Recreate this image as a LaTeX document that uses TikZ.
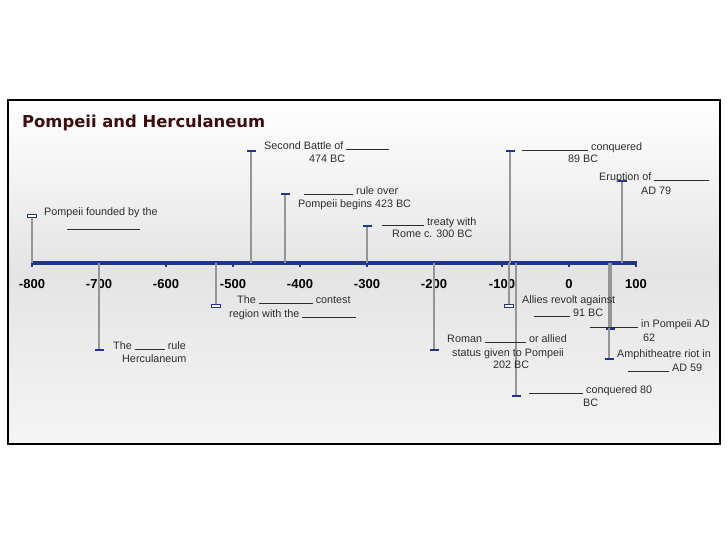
\documentclass[tikz,border=0pt]{standalone}
\usepackage{fontspec}
\setmainfont{Liberation Sans}
\newfontfamily\titlefont{DejaVu Sans}
\definecolor{navy}{RGB}{32,54,138}
\definecolor{linegray}{RGB}{150,150,150}
\definecolor{txtgray}{RGB}{45,45,45}
\definecolor{bgmid}{RGB}{228,228,228}
\definecolor{titlecol}{RGB}{62,14,14}
\newcommand{\blk}[1]{\rule[-0.5pt]{#1pt}{0.7pt}}
\tikzset{
  evt/.style={draw=linegray, line width=1.4pt},
  evtthick/.style={draw=linegray, line width=3.2pt},
  capd/.style={rectangle, fill=navy, minimum width=9pt, minimum height=2pt, inner sep=0pt},
  caph/.style={rectangle, draw=navy, fill=white, line width=0.8pt, minimum width=9pt, minimum height=3.5pt, inner sep=0pt},
  lbl/.style={anchor=base west, inner sep=0pt, text=txtgray, font=\fontsize{10.8}{13}\selectfont},
  yr/.style={anchor=base, inner sep=0pt, text=black, font=\bfseries\fontsize{13}{15}\selectfont},
}
\begin{document}
\begin{tikzpicture}[x=1pt,y=-1pt]
\useasboundingbox (0,0) rectangle (728,546);
% frame with gradient
\path[top color=white, bottom color=white!96!black, middle color=bgmid] (8,100) rectangle (720,444);
\draw[line width=1.5pt, black] (8,100) rectangle (720,444);
% title
\node[anchor=base west, inner sep=0pt, text=titlecol, font=\titlefont\bfseries\fontsize{16.4}{18}\selectfont] (title) at (22,127) {Pompeii and Herculaneum};
% axis
\coordinate (ax0) at (32,263);
\coordinate (ax1) at (637,263);
\foreach \i/\x in {1/32,2/99,3/166,4/233,5/300,6/367,7/434,8/502,9/569,10/636} {
  \draw[navy, line width=1.2pt] (\x,263) -- (\x,267);
}
\draw[navy, line width=4.5pt] (ax0) -- (ax1);
% year labels
\foreach \x/\t in {32/-800,99/-700,166/-600,233/-500,300/-400,367/-300,434/-200,502/-100,569/0,636/100} {
  \node[yr] (y\t) at (\x,288) {\t};
}
% event anchor points on axis
\coordinate (a1) at (32,263);
\coordinate (a2) at (99,263);
\coordinate (a3) at (216,263);
\coordinate (a4) at (251,263);
\coordinate (a5) at (285,263);
\coordinate (a6) at (367,263);
\coordinate (a7) at (434,263);
\coordinate (a8) at (510,263);
\coordinate (a9) at (509,263);
\coordinate (a10) at (516,263);
\coordinate (a11) at (622,263);
\coordinate (a12) at (610,263);
\coordinate (a13) at (609,263);
% caps
\node[caph] (c1) at (32,216) {};
\node[capd] (c2) at (99,350) {};
\node[caph] (c3) at (216,306) {};
\node[capd] (c4) at (251,151) {};
\node[capd] (c5) at (285,194) {};
\node[capd] (c6) at (367,226) {};
\node[capd] (c7) at (434,350) {};
\node[capd] (c8) at (510,151) {};
\node[caph] (c9) at (509,306) {};
\node[capd] (c10) at (516,396) {};
\node[capd] (c11) at (622,181) {};
\node[capd] (c12) at (610,329) {};
\node[capd] (c13) at (609,359) {};
% event lines
\draw[evt] (a1) -- (c1);
\draw[evt] (a2) -- (c2);
\draw[evt] (a3) -- (c3);
\draw[evt] (a4) -- (c4);
\draw[evt] (a5) -- (c5);
\draw[evt] (a6) -- (c6);
\draw[evt] (a7) -- (c7);
\draw[evt] (a8) -- (c8);
\draw[evt] (a9) -- (c9);
\draw[evt] (a10) -- (c10);
\draw[evt] (a11) -- (c11);
\draw[evt] (a13) -- (c13);
\draw[evtthick] (a12) -- (c12);
% labels
\node[lbl] (t1a) at (44,215) {Pompeii founded by the};
\node[lbl] (t1b) at (67,229) {\blk{73}};
\node[lbl] (t2a) at (113,349) {The \blk{30} rule};
\node[lbl] (t2b) at (122,362) {Herculaneum};
\node[lbl] (t3a) at (237,303) {The \blk{54} contest};
\node[lbl] (t3b) at (229,317) {region with the \blk{54}};
\node[lbl] (t4a) at (264,149) {Second Battle of \blk{43}};
\node[lbl] (t4b) at (309,162) {474 BC};
\node[lbl] (t5a) at (304,194) {\blk{49} rule over};
\node[lbl] (t5b) at (298,207) {Pompeii begins 423 BC};
\node[lbl] (t6a) at (382,225) {\blk{42} treaty with};
\node[lbl] (t6b) at (392,237) {Rome c. 300 BC};
\node[lbl] (t7a) at (447,342) {Roman \blk{41} or allied};
\node[lbl] (t7b) at (452,356) {status given to Pompeii};
\node[lbl] (t7c) at (493,368) {202 BC};
\node[lbl] (t8a) at (522,150) {\blk{66} conquered};
\node[lbl] (t8b) at (568,162) {89 BC};
\node[lbl] (t9a) at (522,303) {Allies revolt against};
\node[lbl] (t9b) at (534,316) {\blk{36} 91 BC};
\node[lbl] (t10a) at (529,393) {\blk{54} conquered 80};
\node[lbl] (t10b) at (583,406) {BC};
\node[lbl] (t11a) at (599,180) {Eruption of \blk{55}};
\node[lbl] (t11b) at (641,194) {AD 79};
\node[lbl] (t12a) at (590,327) {\blk{48} in Pompeii AD};
\node[lbl] (t12b) at (643,341) {62};
\node[lbl] (t13a) at (617,357) {Amphitheatre riot in};
\node[lbl] (t13b) at (628,371) {\blk{41} AD 59};
\end{tikzpicture}
\end{document}
